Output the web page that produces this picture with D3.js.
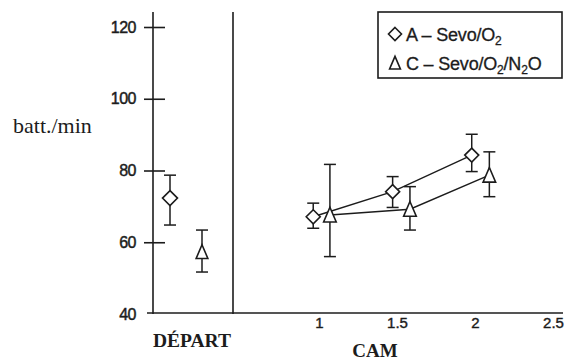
<!DOCTYPE html>
<html>
<head>
<meta charset="utf-8">
<script src="https://cdn.jsdelivr.net/npm/d3@7"></script>
<style>
  body { margin: 0; background: #fff; }
</style>
</head>
<body>
<div id="chart"></div>
<script>
// values (batt./min, mean with low/high bar ends)
const yTicks = [40, 60, 80, 100, 120];
const camTicks = [1, 1.5, 2, 2.5];
const groups = ["A", "C"];

const departMean = [72.3, 57.3];
const departLow = [64.8, 51.7];
const departHigh = [78.7, 63.4];

const camA = [0.963, 1.472, 1.979];
const meanA = [67.1, 74.1, 84.3];
const lowA = [63.9, 69.7, 79.7];
const highA = [70.9, 78.3, 90.1];

const camC = [1.07, 1.583, 2.092];
const meanC = [67.6, 69.2, 78.7];
const lowC = [56.0, 63.4, 72.7];
const highC = [81.7, 75.5, 85.2];

// legend text split into [text, isSubscript] pieces
const legendA = [["A – Sevo/O", false], ["2", true]];
const legendC = [["C – Sevo/O", false], ["2", true], ["/N", false], ["2", true], ["O", false]];

const width = 566, height = 362;
const ink = "#1c1c1c";
const sans = "'Liberation Sans', Arial, sans-serif";
const serif = "'Liberation Serif', 'Times New Roman', serif";

const y = d3.scaleLinear().domain([40, 120]).range([314, 27]);
const x = d3.scaleLinear().domain([1, 2.5]).range([319, 553]);
const xDep = d3.scalePoint().domain(groups).range([170, 202]);

const svg = d3.select("#chart").append("svg")
  .attr("width", width)
  .attr("height", height)
  .style("display", "block");

// y axis
const yAxis = svg.append("g")
  .attr("transform", "translate(153,0)")
  .call(d3.axisLeft(y).tickValues(yTicks).tickSizeInner(9).tickSizeOuter(0).tickPadding(8));
yAxis.select(".domain").remove();
yAxis.selectAll(".tick line").attr("x1", 12).attr("stroke", ink).attr("stroke-width", 1.6);
yAxis.selectAll(".tick text")
  .attr("fill", ink)
  .attr("stroke", ink)
  .attr("stroke-width", 0.45)
  .style("font-family", sans)
  .style("font-size", "16px")
  .style("letter-spacing", "-0.5px");
yAxis.select(".tick:first-of-type line").remove();

svg.append("line")
  .attr("x1", 153).attr("x2", 153)
  .attr("y1", y(124.2)).attr("y2", y(40))
  .attr("stroke", ink).attr("stroke-width", 1.6);

// divider between DÉPART and CAM parts
svg.append("line")
  .attr("x1", 233).attr("x2", 233)
  .attr("y1", y(124.2)).attr("y2", y(40))
  .attr("stroke", ink).attr("stroke-width", 1.6);

// x axis
svg.append("line")
  .attr("x1", 147).attr("x2", 563)
  .attr("y1", y(40) - 1).attr("y2", y(40) - 1)
  .attr("stroke", ink).attr("stroke-width", 1.6);

const xAxis = svg.append("g")
  .attr("transform", `translate(0,${y(40)})`)
  .call(d3.axisBottom(x).tickValues(camTicks).tickFormat(d3.format("")).tickSize(0).tickPadding(3));
xAxis.select(".domain").remove();
xAxis.selectAll(".tick text")
  .attr("fill", ink)
  .attr("stroke", ink)
  .attr("stroke-width", 0.4)
  .style("font-family", sans)
  .style("font-size", "15px");

// axis titles
svg.append("text")
  .attr("x", 13).attr("y", 133)
  .attr("fill", ink)
  .style("font-family", serif)
  .style("font-size", "22px")
  .text("batt./min");

svg.append("text")
  .attr("x", 192).attr("y", 347)
  .attr("text-anchor", "middle")
  .attr("fill", ink)
  .style("font-family", serif)
  .style("font-weight", "bold")
  .style("font-size", "19.5px")
  .text("DÉPART");

svg.append("text")
  .attr("x", 375).attr("y", 357)
  .attr("text-anchor", "middle")
  .attr("fill", ink)
  .style("font-family", serif)
  .style("font-weight", "bold")
  .style("font-size", "19px")
  .text("CAM");

// marker shapes
const diamond = (cx, cy, r) => `M${cx},${cy - r}L${cx + r},${cy}L${cx},${cy + r}L${cx - r},${cy}Z`;
const triangle = (cx, cy, r) => `M${cx},${cy - r * 1.1}L${cx + r * 0.9},${cy + r}L${cx - r * 0.9},${cy + r}Z`;

function errorBars(xs, lows, highs) {
  const g = svg.append("g").attr("stroke", ink).attr("stroke-width", 1.5).attr("fill", "none");
  xs.forEach((xv, i) => {
    g.append("line").attr("x1", xv).attr("x2", xv).attr("y1", y(lows[i])).attr("y2", y(highs[i]));
    g.append("line").attr("x1", xv - 6).attr("x2", xv + 6).attr("y1", y(lows[i])).attr("y2", y(lows[i]));
    g.append("line").attr("x1", xv - 6).attr("x2", xv + 6).attr("y1", y(highs[i])).attr("y2", y(highs[i]));
  });
}

function markers(xs, means, shape, r) {
  svg.append("g")
    .selectAll("path")
    .data(xs)
    .join("path")
    .attr("d", (xv, i) => shape(xv, y(means[i]), r))
    .attr("fill", "#fff")
    .attr("stroke", ink)
    .attr("stroke-width", 1.6);
}

// connecting lines for the CAM part
const line = d3.line();
svg.append("path")
  .attr("d", line(camA.map((c, i) => [x(c), y(meanA[i])])))
  .attr("fill", "none").attr("stroke", ink).attr("stroke-width", 1.4);
svg.append("path")
  .attr("d", line(camC.map((c, i) => [x(c), y(meanC[i])])))
  .attr("fill", "none").attr("stroke", ink).attr("stroke-width", 1.4);

// DÉPART
errorBars(groups.map(g => xDep(g)), departLow, departHigh);
markers([xDep("A")], [departMean[0]], diamond, 7.5);
markers([xDep("C")], [departMean[1]], triangle, 6.5);

// CAM
errorBars(camA.map(x), lowA, highA);
errorBars(camC.map(x), lowC, highC);
markers(camA.map(x), meanA, diamond, 7);
markers(camC.map(x), meanC, triangle, 7);

// legend
const legend = svg.append("g");
legend.append("rect")
  .attr("x", 378).attr("y", 12)
  .attr("width", 184).attr("height", 66)
  .attr("fill", "#fff").attr("stroke", ink).attr("stroke-width", 1.6);

legend.append("path").attr("d", diamond(395, 34, 6.5))
  .attr("fill", "none").attr("stroke", ink).attr("stroke-width", 1.6);
legend.append("path").attr("d", triangle(395, 63, 6))
  .attr("fill", "none").attr("stroke", ink).attr("stroke-width", 1.6);

function legendText(parts, ty) {
  const t = legend.append("text")
    .attr("x", 406).attr("y", ty)
    .attr("fill", ink)
    .attr("stroke", ink)
    .attr("stroke-width", 0.3)
    .style("font-family", sans)
    .style("font-size", "18px")
    .style("letter-spacing", "-0.2px");
  parts.forEach(([s, sub]) => {
    const ts = t.append("tspan").text(s);
    if (sub) ts.attr("dy", 4).style("font-size", "12px");
    else ts.attr("dy", t.selectAll("tspan").size() > 1 ? -4 : 0);
  });
}
legendText(legendA, 41);
legendText(legendC, 70);
</script>
</body>
</html>
